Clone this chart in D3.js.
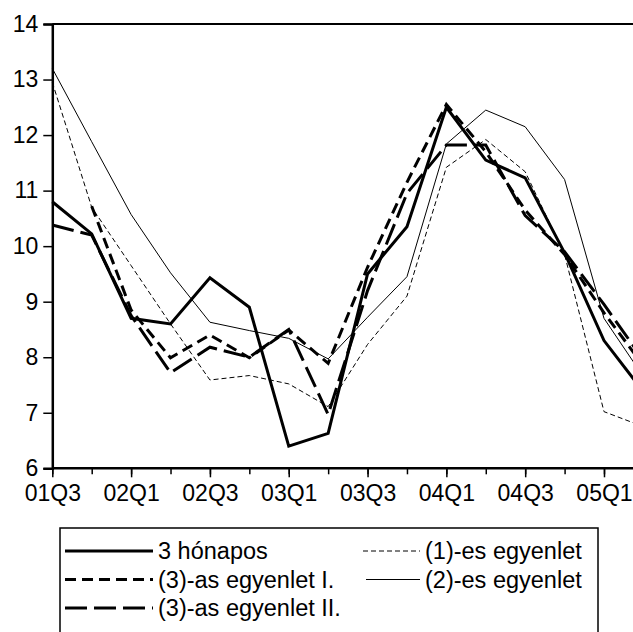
<!DOCTYPE html>
<html lang="hu">
<head>
<meta charset="UTF-8">
<script src="https://d3js.org/d3.v7.min.js"></script>
<style>
  body { margin: 0; background: #fff; }
  svg { display: block; font-family: "Liberation Sans", Arial, sans-serif; }
  .axis path, .axis line { stroke: #000; }
  .axis text { font-size: 23px; fill: #000; }
  .legend text { font-size: 23.5px; }
</style>
</head>
<body>
<svg id="chart" width="633" height="632"></svg>
<script>
// negyedevek
var quarters = ["01Q3","01Q4","02Q1","02Q2","02Q3","02Q4","03Q1","03Q2",
                "03Q3","03Q4","04Q1","04Q2","04Q3","04Q4","05Q1","05Q2"];

var honapos3 = [10.8, 10.22, 8.7, 8.6, 9.43, 8.9, 6.4, 6.63, 9.5, 10.35, 12.5, 11.55, 11.23, 9.88, 8.3, 7.38];
var egyenlet1 = [12.95, 10.7, 9.65, 8.6, 7.59, 7.67, 7.52, 7.11, 8.23, 9.1, 11.42, 11.92, 11.34, 9.85, 7.02, 6.75];
var egyenlet2 = [13.2, 11.88, 10.57, 9.52, 8.63, 8.48, 8.34, 7.97, 8.72, 9.45, 11.84, 12.45, 12.15, 11.2, 8.7, 7.65];
var egyenlet3I = [null, 10.72, 8.85, 7.99, 8.4, 7.99, 8.49, 7.89, 9.62, 11.15, 12.55, 11.7, 10.65, 9.85, 8.8, 7.85];
var egyenlet3II = [10.38, 10.2, 8.75, 7.72, 8.18, 8.0, 8.5, 6.97, 9.2, 10.95, 11.82, 11.82, 10.55, 9.9, 8.95, 7.95];

var yTicks = [6, 7, 8, 9, 10, 11, 12, 13, 14];

var series = [
  {name: "3 hónapos", values: honapos3, width: 3, dash: null},
  {name: "(1)-es egyenlet", values: egyenlet1, width: 1, dash: "5,3"},
  {name: "(2)-es egyenlet", values: egyenlet2, width: 1, dash: null},
  {name: "(3)-as egyenlet I.", values: egyenlet3I, width: 3, dash: "11,6"},
  {name: "(3)-as egyenlet II.", values: egyenlet3II, width: 3, dash: "22,7"}
];

var svg = d3.select("#chart");

var x = d3.scaleLinear().domain([0, quarters.length - 1]).range([52.3, 643.4]);
var y = d3.scaleLinear().domain([6, 14]).range([468.3, 24]);

// keret felső vonala
svg.append("line")
  .attr("x1", x(0)).attr("x2", 633)
  .attr("y1", y(14)).attr("y2", y(14))
  .attr("stroke", "#000").attr("stroke-width", 2);

// vonalak
var line = d3.line()
  .defined(function(d){ return d != null; })
  .x(function(d, i){ return x(i); })
  .y(function(d){ return y(d); });

svg.selectAll("path.series")
  .data(series)
  .enter()
  .append("path")
  .attr("class", "series")
  .attr("fill", "none")
  .attr("stroke", "#000")
  .attr("stroke-width", function(d){ return d.width; })
  .attr("stroke-dasharray", function(d){ return d.dash; })
  .attr("stroke-linejoin", "miter")
  .attr("d", function(d){ return line(d.values); });

// y tengely
svg.append("g")
  .attr("class", "axis")
  .attr("transform", "translate(" + x(0) + ",0)")
  .call(d3.axisLeft(y).tickValues(yTicks).tickSize(9).tickPadding(5).tickFormat(d3.format("d")))
  .call(function(g){ g.select(".domain").attr("stroke-width", 2.5); })
  .call(function(g){ g.selectAll(".tick line").attr("stroke-width", 1.5); });

// x tengely: kis osztások minden negyedévnél
svg.append("g")
  .attr("class", "axis")
  .attr("transform", "translate(0," + y(6) + ")")
  .call(d3.axisBottom(x).tickValues(d3.range(quarters.length)).tickSize(6).tickFormat(""))
  .call(function(g){ g.select(".domain").remove(); })
  .call(function(g){ g.selectAll(".tick line").attr("stroke-width", 1.5); });

// x tengely: feliratok minden második negyedévnél
svg.append("g")
  .attr("class", "axis")
  .attr("transform", "translate(0," + y(6) + ")")
  .call(d3.axisBottom(x)
    .tickValues(d3.range(0, quarters.length, 2))
    .tickSize(9).tickPadding(7)
    .tickFormat(function(i){ return quarters[i]; }))
  .call(function(g){
    g.select(".domain").attr("d", "M" + x(0) + ",0H633").attr("stroke-width", 2.5);
  })
  .call(function(g){ g.selectAll(".tick line").attr("stroke-width", 1.5); });

// jelmagyarázat
var legend = svg.append("g").attr("class", "legend");
legend.append("rect")
  .attr("x", 60).attr("y", 528)
  .attr("width", 538).attr("height", 120)
  .attr("fill", "none").attr("stroke", "#000").attr("stroke-width", 1.5);

var legendPos = [
  {s: 0, x1: 65, x2: 153, row: 0},
  {s: 1, x1: 363, x2: 420, row: 0},
  {s: 3, x1: 65, x2: 153, row: 1},
  {s: 2, x1: 366, x2: 420, row: 1},
  {s: 4, x1: 65, x2: 153, row: 2}
];

legendPos.forEach(function(p){
  var s = series[p.s];
  var ly = 551 + p.row * 28.5;
  legend.append("line")
    .attr("x1", p.x1).attr("x2", p.x2)
    .attr("y1", ly).attr("y2", ly)
    .attr("stroke", "#000")
    .attr("stroke-width", s.width)
    .attr("stroke-dasharray", s.dash);
  legend.append("text")
    .attr("x", p.x2 + 5).attr("y", ly)
    .attr("dy", "0.35em")
    .text(s.name);
});
</script>
</body>
</html>
